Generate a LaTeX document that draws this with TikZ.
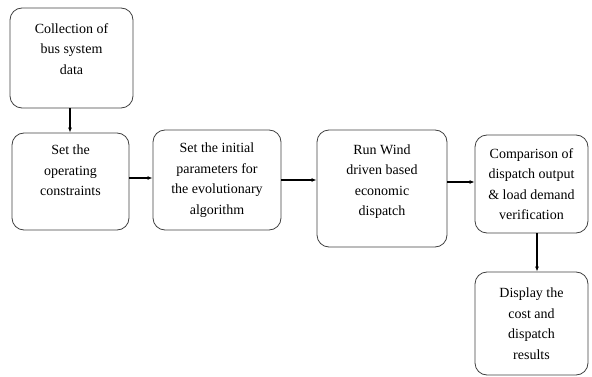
\documentclass[tikz,border=0pt]{standalone}
\usepackage{fontspec}
\setmainfont{Liberation Serif}
\usetikzlibrary{arrows.meta}
\tikzset{
  procbox/.style={draw=black!75,line width=0.8pt,rounded corners=12pt,align=center,
    font=\fontsize{14}{20.5}\selectfont,inner sep=2pt},
  flow/.style={-{Latex[length=5pt,width=4pt]},line width=1.1pt}
}
\begin{document}
\begin{tikzpicture}[x=1pt,y=-1pt]
  \useasboundingbox (0,0) rectangle (592,377);
  % boxes: centre, width, height
  \node[procbox,minimum width=123pt,minimum height=100pt] (collect) at (71.5,58) {Collection of\\bus system\\data\\[-2pt]};
  \node[procbox,minimum width=117pt,minimum height=97pt] (constr) at (70.5,181.5) {Set the\\operating\\constraints\\[2pt]};
  \node[procbox,minimum width=128pt,minimum height=100pt] (param) at (217,180) {Set the initial\\parameters for\\the evolutionary\\algorithm};
  \node[procbox,minimum width=130pt,minimum height=117pt] (wind) at (382,188.5) {Run Wind\\driven based\\economic\\dispatch\\[-4pt]};
  \node[procbox,minimum width=113pt,minimum height=98pt] (verify) at (531.5,184) {Comparison of\\dispatch output\\\& load demand\\verification};
  \node[procbox,minimum width=113pt,minimum height=103pt] (show) at (531.5,323.5) {Display the\\cost and\\dispatch\\results};
  % connectors
  \draw[flow] (collect.south -| 70,0) -- (constr.north -| 70,0);
  \draw[flow] (constr.east |- 0,178) -- (param.west |- 0,178);
  \draw[flow] (param.east |- 0,180) -- (wind.west |- 0,180);
  \draw[flow] (wind.east |- 0,182) -- (verify.west |- 0,182);
  \draw[flow] (verify.south -| 537,0) -- (show.north -| 537,0);
\end{tikzpicture}
\end{document}
